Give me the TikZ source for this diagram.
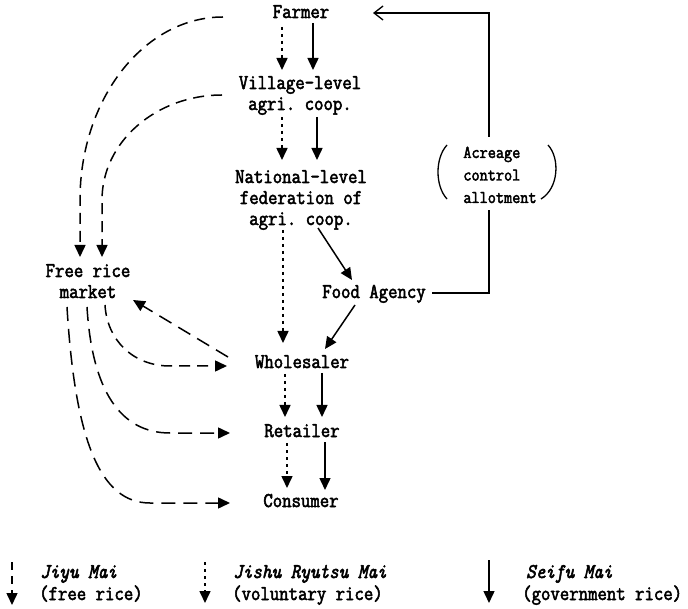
\documentclass[tikz,border=0pt]{standalone}
\usepackage{fontspec}
\setmonofont[FakeStretch=0.87,FakeBold=2.5]{Latin Modern Mono}
\newfontfamily\smallmono[FakeStretch=0.878,FakeBold=2.5]{Latin Modern Mono}
\usetikzlibrary{arrows.meta,calc}
\tikzset{
  lbl/.style={font=\ttfamily\fontsize{21}{21}\selectfont, anchor=base, inner sep=0pt, align=center},
  small/.style={font=\smallmono\fontsize{18}{22.5}\selectfont, anchor=base, inner sep=0pt, align=left},
  leg/.style={font=\ttfamily\fontsize{21}{21}\selectfont, anchor=base west, inner sep=0pt},
  tri/.tip={Triangle[width=11pt,length=12pt]},
  gov/.style={line width=1.5pt, -tri},
  vol/.style={line width=1.6pt, dash pattern=on 3pt off 4pt, -tri},
  freer/.style={line width=1.5pt, dash pattern=on 11pt off 7pt, -tri},
  freel/.style={line width=1.5pt, dash pattern=on 14pt off 8pt, -tri},
  ctrl/.style={line width=1.3pt},
  paren/.style={line width=1.3pt},
}
\begin{document}
\begin{tikzpicture}[x=1pt,y=-1pt]
\useasboundingbox (0,0) rectangle (688,609);

% nodes (multi-line nodes sit on the baseline of their last line)
\node[lbl] (farmer) at (301,18) {Farmer};
\node[lbl] (village) at (300,110) {Village-level\\agri. coop.};
\node[lbl] (national) at (301,225) {National-level\\federation of\\agri. coop.};
\node[lbl] (market) at (88,298) {Free rice\\market};
\node[lbl] (food) at (374,298) {Food Agency};
\node[lbl] (whole) at (302,368) {Wholesaler};
\node[lbl] (retail) at (302,437) {Retailer};
\node[lbl] (cons) at (301,507) {Consumer};
\node[small] (acre) at (500,203) {Acreage\\control\\allotment};

% parentheses around acreage note
\draw[paren] (447,145) .. controls (435,158) and (435,186) .. (447,199);
\draw[paren] (548,145) .. controls (560,158) and (559,188) .. (541,199);

% Seifu Mai (government rice)
\draw[gov] ($(farmer.base)+(12,5)$) -- ($(village.base)+(13,-40)$);
\draw[gov] ($(village.base)+(17,7)$) -- ($(national.base)+(16,-65)$);
\draw[gov] ($(national.base)+(17,3)$) -- ($(food.base)+(-22,-18)$);
\draw[gov] ($(food.base)+(-19,7)$) -- ($(whole.base)+(23,-19)$);
\draw[gov] ($(whole.base)+(20,5)$) -- ($(retail.base)+(20,-20)$);
\draw[gov] ($(retail.base)+(23,5)$) -- ($(cons.base)+(24,-17)$);

% Jishu Ryutsu Mai (voluntary rice)
\draw[vol] ($(farmer.base)+(-19,9)$) -- ($(village.base)+(-18,-40)$);
\draw[vol] ($(village.base)+(-18,7)$) -- ($(national.base)+(-19,-65)$);
\draw[vol] ($(national.base)+(-18,5)$) -- ($(whole.base)+(-19,-25)$);
\draw[vol] ($(whole.base)+(-17,6)$) -- ($(retail.base)+(-17,-20)$);
\draw[vol] ($(retail.base)+(-15,6)$) -- ($(cons.base)+(-14,-19)$);

% Jiyu Mai (free rice)
\draw[freer] ($(farmer.base)+(-78,-1)$) .. controls (144,17) and (80,99) .. (80,200) -- ($(market.base)+(-8,-41)$);
\draw[freer] ($(village.base)+(-78,-15)$) .. controls (156,95) and (102,142) .. (102,200) -- ($(market.base)+(14,-41)$);
\draw[freel] ($(whole.base)+(-74,-11)$) -- ($(market.base)+(45,2)$);
\draw[freer] ($(market.base)+(17,7)$) .. controls (107,340) and (133,366) .. (170,366) -- ($(whole.base)+(-75,-2)$);
\draw[freel] ($(market.base)+(-1,9)$) .. controls (92,390) and (120,433) .. (170,433) -- ($(retail.base)+(-72,-4)$);
\draw[freel] ($(market.base)+(-21,9)$) .. controls (75,440) and (100,503) .. (150,503) -- ($(cons.base)+(-71,-4)$);

% acreage control line
\coordinate (cb) at (489,210);
\coordinate (ct) at (489,137);
\draw[ctrl] ($(food.base)+(58,-5)$) -| (cb);
\draw[ctrl, -{Straight Barb[width=14pt,length=9pt,line width=1.3pt]}] (ct) |- ($(farmer.base)+(72,-5)$);

% legend
\coordinate (la1) at (12,562);
\coordinate (la2) at (12,605);
\coordinate (lb1) at (205,562);
\coordinate (lb2) at (205,603);
\coordinate (lc1) at (489,560);
\coordinate (lc2) at (489,603);
\draw[line width=1.5pt, dash pattern=on 8pt off 6pt, -tri] (la1) -- (la2);
\draw[vol] (lb1) -- (lb2);
\draw[gov] (lc1) -- (lc2);
\node[leg] (lt1) at (40,578) {\itshape Jiyu Mai};
\node[leg] (lt1b) at (39,600) {(free rice)};
\node[leg] (lt2) at (233,578) {\itshape Jishu Ryutsu Mai};
\node[leg] (lt2b) at (232,600) {(voluntary rice)};
\node[leg] (lt3) at (526,578) {\itshape Seifu Mai};
\node[leg] (lt3b) at (522,600) {(government rice)};
\end{tikzpicture}
\end{document}
